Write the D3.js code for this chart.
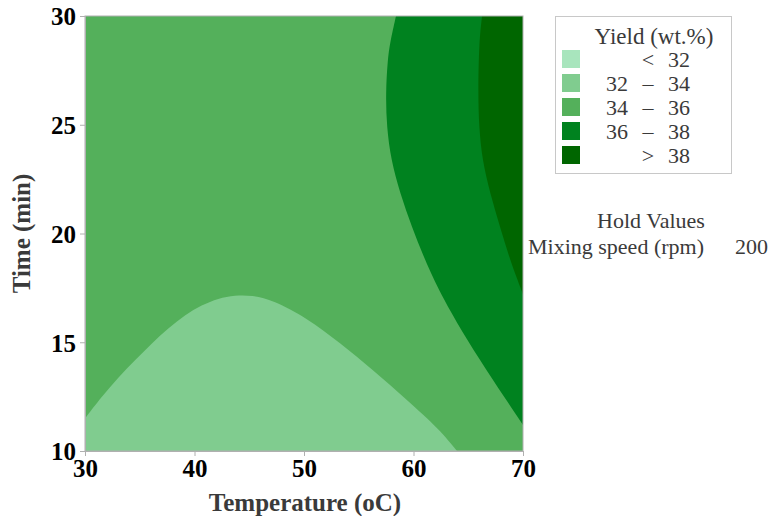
<!DOCTYPE html>
<html>
<head>
<meta charset="utf-8">
<script src="https://cdn.jsdelivr.net/npm/d3@7"></script>
<style>
  body { margin: 0; background: #fff; }
  text { font-family: "Liberation Serif", "Times New Roman", serif; }
</style>
</head>
<body>
<svg id="chart" width="770" height="516"></svg>
<script>
// axis ticks
var xTicks = [30, 40, 50, 60, 70];
var yTicks = [10, 15, 20, 25, 30];

// contour bands, lightest to darkest
var bandLabels = [["", "<", "32"], ["32", "\u2013", "34"], ["34", "\u2013", "36"], ["36", "\u2013", "38"], ["", ">", "38"]];
var bandColors = ["#a8e5bd", "#80cc8f", "#54b05b", "#00821f", "#006600"];

// contour lines: [temperature, time]
var line32_34 = [[30, 11.5], [31.53, 12.5], [33.04, 13.39], [34.57, 14.18], [36.09, 14.95], [37.61, 15.64],
  [39.13, 16.25], [40.66, 16.71], [42.17, 17.02], [43.7, 17.16], [45.22, 17.16], [47.17, 16.94],
  [50.27, 16.11], [53.29, 14.97], [56.3, 13.72], [59.41, 12.34], [62.42, 10.97], [63.97, 10]];
var line34_36 = [[58.4, 30], [57.85, 28.76], [57.64, 27.98], [57.46, 26.46], [57.55, 24.9], [57.95, 23.38],
  [58.77, 21.86], [59.84, 20.3], [61.05, 18.78], [62.42, 17.26], [64.89, 15.1], [67.26, 13.26], [70, 11.2]];
var line36_38 = [[66.26, 30], [65.98, 28.76], [65.9, 26.46], [65.98, 24.9], [66.28, 23.38], [66.99, 21.86],
  [67.9, 20.3], [68.81, 18.78], [70, 17.2]];

var holdName = "Mixing speed (rpm)";
var holdValue = 200;

var plotL = 85, plotT = 16, plotR = 523, plotB = 451;

var svg = d3.select('#chart');

var xScale = d3.scaleLinear().domain([30, 70]).range([plotL, plotR]);
var yScale = d3.scaleLinear().domain([10, 30]).range([plotB, plotT]);

svg.append('clipPath').attr('id', 'plotclip')
  .append('rect')
  .attr('x', plotL).attr('y', plotT)
  .attr('width', plotR - plotL).attr('height', plotB - plotT);

var plot = svg.append('g').attr('clip-path', 'url(#plotclip)');

var curve = d3.line()
  .x(d => xScale(d[0]))
  .y(d => yScale(d[1]))
  .curve(d3.curveBasis);

function pt(x, y) { return xScale(x) + ',' + yScale(y); }

// base band fills the whole area
plot.append('rect')
  .attr('x', plotL).attr('y', plotT)
  .attr('width', plotR - plotL).attr('height', plotB - plotT)
  .attr('fill', bandColors[2]);

plot.append('path')
  .attr('d', curve(line32_34) + 'L' + pt(30, 10) + 'Z')
  .attr('fill', bandColors[1]);

plot.append('path')
  .attr('d', curve(line34_36) + 'L' + pt(70, 30) + 'Z')
  .attr('fill', bandColors[3]);

plot.append('path')
  .attr('d', curve(line36_38) + 'L' + pt(70, 30) + 'Z')
  .attr('fill', bandColors[4]);

// frame
svg.append('rect')
  .attr('x', plotL).attr('y', plotT)
  .attr('width', plotR - plotL).attr('height', plotB - plotT)
  .attr('fill', 'none').attr('stroke', '#b0b0b0').attr('stroke-width', 1);

var xAxis = d3.axisBottom(xScale).tickValues(xTicks).tickSize(5).tickPadding(1);
var yAxis = d3.axisLeft(yScale).tickValues(yTicks).tickSize(5).tickPadding(4);

var gx = svg.append('g').attr('transform', 'translate(0,' + plotB + ')').call(xAxis);
var gy = svg.append('g').attr('transform', 'translate(' + plotL + ',0)').call(yAxis);

[gx, gy].forEach(function (g) {
  g.select('.domain').attr('stroke', '#b0b0b0');
  g.selectAll('.tick line').attr('stroke', '#b0b0b0');
  g.selectAll('.tick text')
    .attr('fill', '#000')
    .style('font-family', '"Liberation Serif", serif')
    .style('font-weight', 'bold')
    .style('font-size', '25px');
});
gx.selectAll('.tick text').attr('dy', '0.8em');
gy.selectAll('.tick text').attr('dy', '0.35em');

svg.append('text')
  .attr('x', (plotL + plotR) / 2 + 1).attr('y', 511)
  .attr('text-anchor', 'middle')
  .attr('fill', '#3a3a3a')
  .style('font-weight', 'bold').style('font-size', '25px')
  .text('Temperature (oC)');

svg.append('text')
  .attr('transform', 'translate(30,' + ((plotT + plotB) / 2) + ') rotate(-90)')
  .attr('text-anchor', 'middle')
  .attr('fill', '#3a3a3a')
  .style('font-weight', 'bold').style('font-size', '25px')
  .text('Time (min)');

// legend
var legend = svg.append('g');
legend.append('rect')
  .attr('x', 555.5).attr('y', 16.5).attr('width', 176).attr('height', 157)
  .attr('fill', '#fff').attr('stroke', '#c8c8c8');

legend.append('text')
  .attr('x', 654).attr('y', 44)
  .attr('text-anchor', 'middle')
  .attr('fill', '#3a3a3a').style('font-size', '23px')
  .text('Yield (wt.%)');

var rows = legend.selectAll('g.row')
  .data(bandLabels)
  .enter().append('g')
  .attr('class', 'row')
  .attr('transform', (d, i) => 'translate(0,' + (i * 24) + ')');

rows.append('rect')
  .attr('x', 562).attr('y', 50).attr('width', 18).attr('height', 18)
  .attr('fill', (d, i) => bandColors[i]);

rows.append('text').attr('x', 628).attr('y', 67).attr('text-anchor', 'end')
  .attr('fill', '#3a3a3a').style('font-size', '22px').text(d => d[0]);
rows.append('text').attr('x', 648).attr('y', 67).attr('text-anchor', 'middle')
  .attr('fill', '#3a3a3a').style('font-size', '22px').text(d => d[1]);
rows.append('text').attr('x', 690).attr('y', 67).attr('text-anchor', 'end')
  .attr('fill', '#3a3a3a').style('font-size', '22px').text(d => d[2]);

// hold values
svg.append('text')
  .attr('x', 651).attr('y', 228)
  .attr('text-anchor', 'middle')
  .attr('fill', '#3a3a3a').style('font-size', '22px')
  .text('Hold Values');
svg.append('text')
  .attr('x', 528).attr('y', 254)
  .attr('fill', '#3a3a3a').style('font-size', '22px')
  .text(holdName);
svg.append('text')
  .attr('x', 768).attr('y', 254)
  .attr('text-anchor', 'end')
  .attr('fill', '#3a3a3a').style('font-size', '22px')
  .text(holdValue);
</script>
</body>
</html>
